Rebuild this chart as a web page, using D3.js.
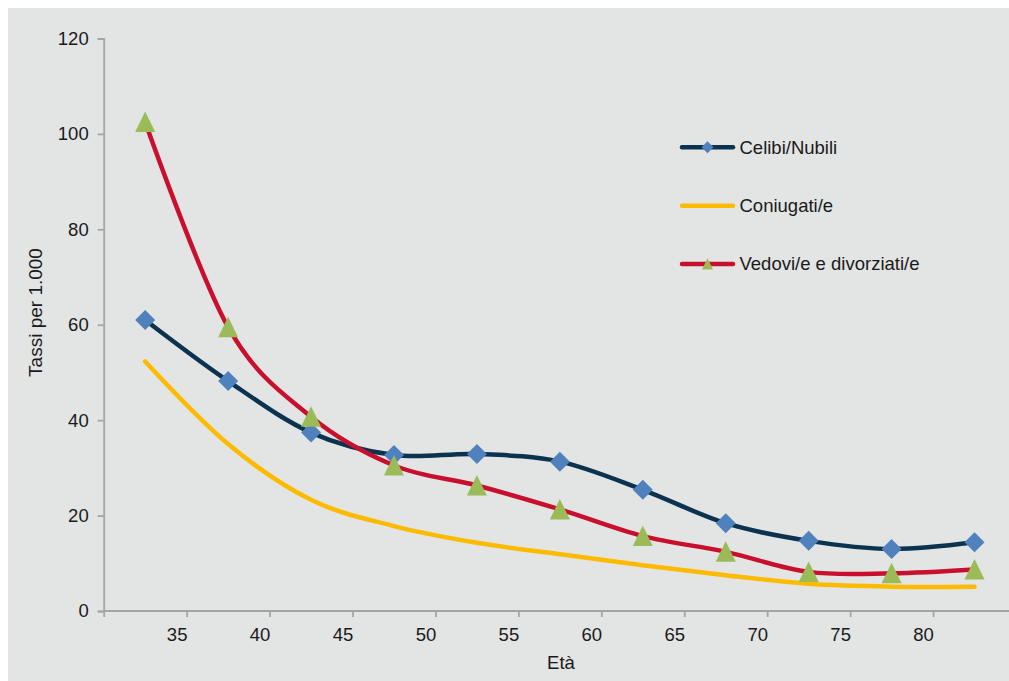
<!DOCTYPE html>
<html><head><meta charset="utf-8">
<script src="https://cdn.jsdelivr.net/npm/d3@7"></script>
<style>body{margin:0;background:#fff}svg{display:block}text{font-family:"Liberation Sans",Arial,sans-serif;fill:#1a1a1a}</style>
</head><body><svg id="c" width="1009" height="681"></svg>
<script>
const ages = [32.5, 37.5, 42.5, 47.5, 52.5, 57.5, 62.5, 67.5, 72.5, 77.5, 82.5];
const celibi = [61.0, 48.2, 37.4, 32.7, 32.9, 31.3, 25.4, 18.4, 14.7, 13.0, 14.4];
const coniugati = [52.3, 35.0, 23.3, 17.8, 14.3, 11.9, 9.6, 7.5, 5.7, 5.1, 5.1];
const vedovi = [102.5, 59.5, 40.7, 30.5, 26.3, 21.3, 15.7, 12.4, 8.2, 7.9, 8.7];
const xTicks = [30, 35, 40, 45, 50, 55, 60, 65, 70, 75, 80];
const yTicks = [0, 20, 40, 60, 80, 100, 120];
const seriesNames = ["Celibi/Nubili", "Coniugati/e", "Vedovi/e e divorziati/e"];

const svg = d3.select("#c");
svg.append("rect").attr("x", 8).attr("y", 8).attr("width", 1009).attr("height", 681).attr("fill", "#e3e4e4");

const x = d3.scaleLinear().domain([30, 85]).range([103.7, 1016]);
const y = d3.scaleLinear().domain([0, 120]).range([611, 38.5]);
const axisColor = "#a5a5a5";

// y axis
const ya = svg.append("g").attr("transform", "translate(103.7,0)")
  .call(d3.axisLeft(y).tickValues(yTicks).tickSize(6).tickPadding(9).tickFormat(d3.format("d")));
ya.select(".domain").attr("stroke", axisColor).attr("stroke-width", 1.8);
ya.selectAll(".tick line").attr("stroke", axisColor).attr("stroke-width", 1.8);
ya.selectAll("text").style("font-size", "18.5px").attr("fill", "#1a1a1a");

// x axis
const xa = svg.append("g").attr("transform", "translate(0,611)")
  .call(d3.axisBottom(x).tickValues(xTicks).tickSize(6).tickPadding(8).tickFormat(d => d === 30 ? "" : d));
xa.select(".domain").attr("stroke", axisColor).attr("stroke-width", 1.8).attr("d", "M103.7,0H1009");
xa.selectAll(".tick line").attr("stroke", axisColor).attr("stroke-width", 1.8);
xa.selectAll("text").style("font-size", "18.5px").attr("fill", "#1a1a1a").attr("dx", -10).attr("dy", "0.88em");

// axis titles
svg.append("text").attr("transform", "translate(42,312.5) rotate(-90)").attr("text-anchor", "middle")
  .style("font-size", "19px").text("Tassi per 1.000");
svg.append("text").attr("x", 561).attr("y", 669).attr("text-anchor", "middle")
  .style("font-size", "18.5px").text("Età");

const line = d3.line().x((d, i) => x(ages[i])).y(d => y(d)).curve(d3.curveCatmullRom.alpha(0));

const cols = {cel: "#0b324f", con: "#fdbb00", ved: "#c8102e", dia: "#4f81bd", tri: "#9bbb59"};

svg.append("path").datum(coniugati).attr("d", line).attr("fill", "none").attr("stroke", cols.con).attr("stroke-width", 4.5).attr("stroke-linecap", "round");
svg.append("path").datum(celibi).attr("d", line).attr("fill", "none").attr("stroke", cols.cel).attr("stroke-width", 4.5).attr("stroke-linecap", "round");
svg.append("path").datum(vedovi).attr("d", line).attr("fill", "none").attr("stroke", cols.ved).attr("stroke-width", 4.5).attr("stroke-linecap", "round");

const diamond = "M0,-10L10,0L0,10L-10,0Z";
const triangle = "M0,-10.5L10,10L-10,10Z";

svg.append("g").selectAll("path").data(celibi).join("path")
  .attr("transform", (d, i) => `translate(${x(ages[i])},${y(d)})`).attr("d", diamond).attr("fill", cols.dia);
svg.append("g").selectAll("path").data(vedovi).join("path")
  .attr("transform", (d, i) => `translate(${x(ages[i])},${y(d)})`).attr("d", triangle).attr("fill", cols.tri);

// legend
const leg = [
  {name: seriesNames[0], col: cols.cel, mk: diamond, mcol: cols.dia, y: 147.3, scale: 0.6},
  {name: seriesNames[1], col: cols.con, mk: null, y: 205.7},
  {name: seriesNames[2], col: cols.ved, mk: triangle, mcol: cols.tri, y: 264, scale: 0.55}
];
leg.forEach(l => {
  svg.append("line").attr("x1", 682).attr("x2", 733).attr("y1", l.y).attr("y2", l.y)
    .attr("stroke", l.col).attr("stroke-width", 4.5).attr("stroke-linecap", "round");
  if (l.mk) svg.append("path").attr("d", l.mk).attr("fill", l.mcol)
    .attr("transform", `translate(707.5,${l.y}) scale(${l.scale})`);
  svg.append("text").attr("x", 739.5).attr("y", l.y).attr("dy", "0.35em").style("font-size", "18.5px").text(l.name);
});
</script></body></html>
